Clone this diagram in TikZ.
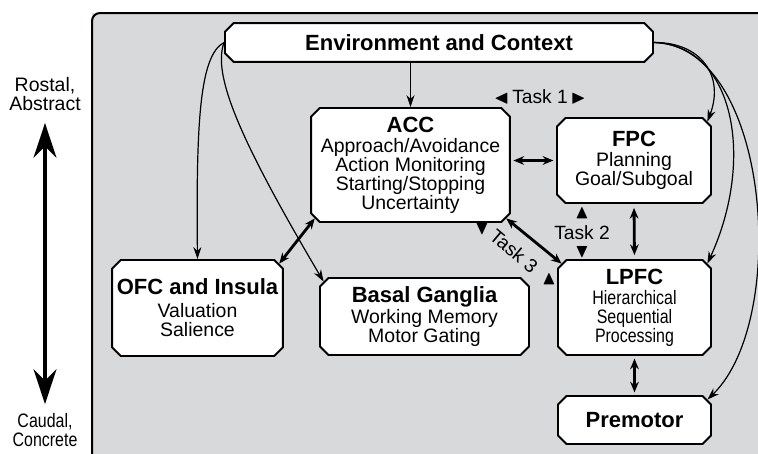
\documentclass[tikz,border=0pt]{standalone}
\usepackage{amssymb}
\usepackage{fontspec}
\setmainfont{Liberation Sans}
\newfontfamily\narrowfont[FakeStretch=0.82]{Liberation Sans}
\usetikzlibrary{shapes.misc,arrows.meta}
\definecolor{panelgray}{RGB}{216,217,219}
\newcommand{\boxtitle}[1]{{\fontsize{16.5}{16.5}\selectfont\bfseries #1}}

\begin{document}
\begin{tikzpicture}[x=0.75pt,y=-0.75pt,
  box/.style={chamfered rectangle,chamfered rectangle xsep=3.2pt,chamfered rectangle ysep=3.2pt,
    draw,line width=1.4pt,fill=white,inner sep=0pt,align=center,
    font=\fontsize{14.6}{14.2}\selectfont},
  link/.style={-{Stealth[length=9pt,width=6pt]},line width=0.9pt},
  duplex/.style={{Stealth[length=8pt,width=6.5pt]}-{Stealth[length=8pt,width=6.5pt]},line width=2.1pt},
  tasklabel/.style={inner sep=0pt,font=\fontsize{14.4}{15}\selectfont},
  axislabel/.style={inner sep=0pt,align=center,font=\fontsize{14.6}{14.2}\selectfont}]
\useasboundingbox (0,0) rectangle (758,454);
\clip (0,0) rectangle (758,454);
%\draw[help lines] (0,0) grid (758,454);
\fill[panelgray] (92,13) rectangle (770,470);
\draw[line width=1.5pt,rounded corners=6pt] (92,470) -- (92,13) -- (770,13);

\node[axislabel] (rostal) at (45,94) {Rostal,\\Abstract};
\node[axislabel,font=\fontsize{14.6}{13.6}\narrowfont] (caudal) at (45,430) {Caudal,\\Concrete};
\draw[{Stealth[length=26pt,width=17pt]}-{Stealth[length=26pt,width=17pt]},line width=3.5pt,
  shorten <=9pt,shorten >=7pt] (rostal.south) -- (caudal.north);

\node[box,minimum width=321pt,minimum height=29pt] (env) at (439,42.5) {\boxtitle{Environment and Context}};
\node[box,minimum width=149pt,minimum height=85.5pt] (acc) at (410.5,165)
  {\boxtitle{ACC}\\[1pt]Approach/Avoidance\\Action Monitoring\\Starting/Stopping\\Uncertainty};
\node[box,minimum width=115.5pt,minimum height=63.75pt] (fpc) at (634,160.5)
  {\boxtitle{FPC}\\[1pt]Planning\\Goal/Subgoal};
\node[box,minimum width=128pt,minimum height=72pt] (ofc) at (197.5,308)
  {\boxtitle{OFC and Insula}\\[3pt]Valuation\\Salience};
\node[box,minimum width=156.75pt,minimum height=57.75pt] (bg) at (424.5,316.5)
  {\boxtitle{Basal Ganglia}\\[1pt]Working Memory\\Motor Gating};
\node[box,minimum width=114.75pt,minimum height=71.25pt] (lpfc) at (634.5,307.5)
  {\boxtitle{LPFC}\\[1pt]{\narrowfont Hierarchical}\\{\narrowfont Sequential}\\{\narrowfont Processing}};
\node[box,minimum width=114.75pt,minimum height=36pt] (pm) at (634.5,420) {\boxtitle{Premotor}};

\node[tasklabel] (task1) at (540,97) {$\blacktriangleleft$\,Task 1\,$\blacktriangleright$};
\node[tasklabel] (task2) at (582,233) {Task 2};
\node[tasklabel] (task2up) at (582,213) {$\blacktriangle$};
\node[tasklabel] (task2dn) at (582,252) {$\blacktriangledown$};
\node[tasklabel,rotate=-40] (task3) at (514,251) {Task 3};
\node[tasklabel] (task3dn) at (482,229) {$\blacktriangledown$};
\node[tasklabel] (task3up) at (549,279) {$\blacktriangle$};

\draw[link] (acc.north |- env.south) -- (acc.north);
\draw[link] (env.west) .. controls (200,55) and (196,120) .. (ofc.north);
\draw[link] (env.west) .. controls (212,75) and (240,140) .. (bg.north west);
\draw[link] (env.east) .. controls (700,42) and (725,75) .. (fpc.north east);
\draw[link] (env.east) .. controls (735,45) and (755,160) .. (lpfc.north east);
\draw[link] (env.east) .. controls (770,45) and (790,320) .. (pm.north east);

\draw[duplex,shorten <=2pt,shorten >=2pt] (acc.east |- fpc.west) -- (fpc.west);
\draw[duplex] (acc.south east) -- (lpfc.north west);
\draw[duplex] (ofc.north east) -- (acc.south west);
\draw[duplex,shorten <=3pt,shorten >=3pt] (fpc.south) -- (lpfc.north);
\draw[duplex,shorten <=2pt,shorten >=2pt] (lpfc.south) -- (pm.north);
\end{tikzpicture}
\end{document}
